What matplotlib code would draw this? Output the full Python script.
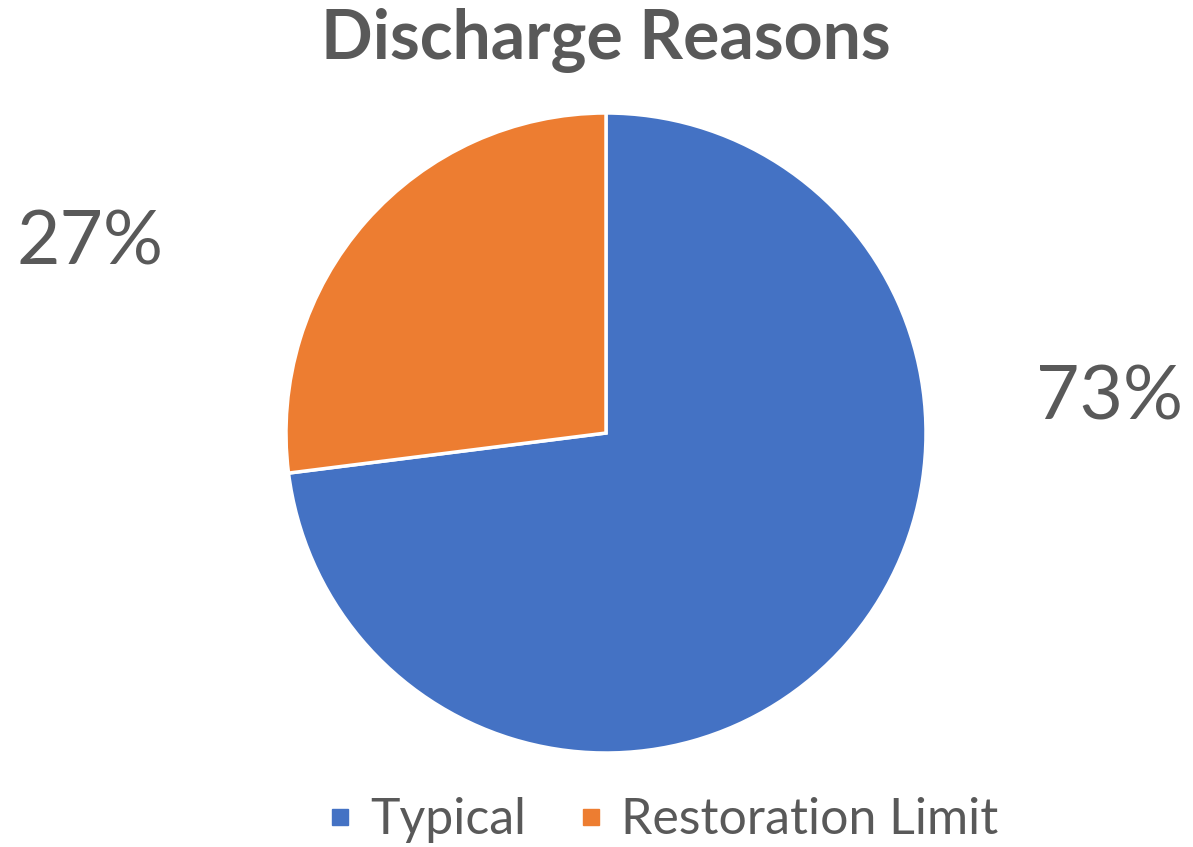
import matplotlib
matplotlib.use("Agg")
import matplotlib.pyplot as plt
from matplotlib.lines import Line2D

categories = ["Typical", "Restoration Limit"]
values = [73, 27]
colors = ["#4472C4", "#ED7D31"]
title = "Discharge Reasons"
label_pos = [(1.575, 0.11), (-1.6125, 0.594)]

W, H = 1193, 847
fig = plt.figure(figsize=(W / 100, H / 100), dpi=100)
ax = fig.add_axes([0, 0, 1, 1])
cx, cy, r = 606, 433, 320

font = "Lato"
tc = "#595959"
ax.pie(values, colors=colors, startangle=90, counterclock=False, radius=1.0,
       wedgeprops=dict(edgecolor="white", linewidth=2.5))
ax.set_xlim(-cx / r, (W - cx) / r)
ax.set_ylim(-(H - cy) / r, cy / r)
ax.set_aspect("equal")
ax.axis("off")

total = sum(values)
for v, (x, y) in zip(values, label_pos):
    ax.text(x, y, f"{round(100 * v / total)}%", ha="center", va="center",
            fontsize=54, color=tc, family=font)

ax.text(0, (cy - 40) / r, title, ha="center", va="center", fontsize=49,
        fontweight="bold", color=tc, family=font)

handles = [Line2D([], [], marker="s", linestyle="none", markersize=12,
                  markerfacecolor=c, markeredgecolor=c) for c in colors]
fig.legend(handles, categories, loc="center", bbox_to_anchor=(662 / W, 1 - 820 / H),
           ncol=2, frameon=False, prop=dict(family=font, size=36),
           labelcolor=tc, handletextpad=0.3, columnspacing=1.0, handlelength=0.6)

fig.savefig("out.png", dpi=100)
